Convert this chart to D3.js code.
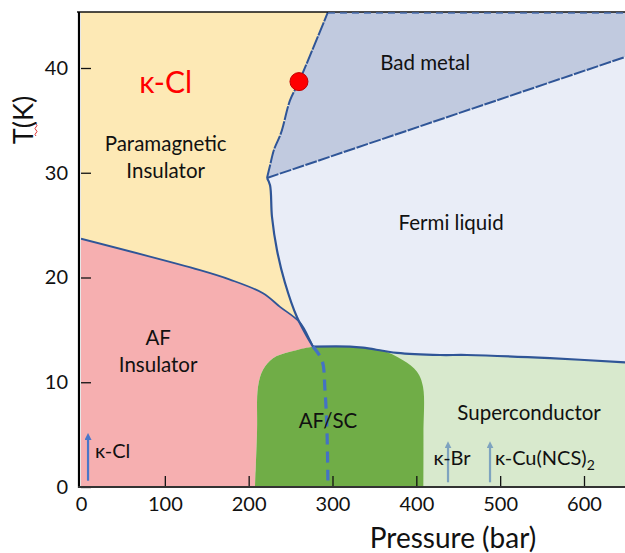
<!DOCTYPE html>
<html><head><meta charset="utf-8">
<script src="https://cdn.jsdelivr.net/npm/d3@7"></script>
<style>
html,body{margin:0;padding:0;background:#fff;}
svg{display:block;font-family:Lato,"Noto Sans",sans-serif;}
</style></head>
<body><svg id="chart" width="625" height="553"></svg>
<script>
// ---- data (pressure in bar, temperature in K) ----
const xTicks = [0,100,200,300,400,500,600];
const yTicks = [0,10,20,30,40];
const P_MAX = 650, T_MAX = 45.35;
// paramagnetic insulator / bad metal boundary (junction -> top)
const pmBadMetal = [[221.9,29.5],[225.5,30.7],[230.2,32.2],[238.6,33.8],[249.3,36.9],[260,38.7],[294.6,45.35]];
// bad metal / Fermi liquid crossover (junction -> right)
const badMetalFL = [[221.9,29.5],[649,41.05]];
// paramagnetic insulator / Fermi liquid first-order line (junction -> critical meeting point)
const pmFL = [[221.9,29.5],[225.5,28.8],[227.8,25.8],[233.8,22.6],[243.3,19.5],[257.7,16.2],[276.7,13.4]];
// AF insulator / paramagnetic insulator boundary
const afLine = [[0,23.7],[142,20.7],[177.7,19.8],[217.1,18.5],[237.4,17.2],[261.2,15.7],[273.2,14.0],[276.7,13.4]];
// Fermi liquid / superconductor boundary
const flSC = [[276.7,13.4],[320.9,13.4],[336.4,13.3],[377,12.8],[428.3,12.6],[460.5,12.6],[559.5,12.3],[649,11.9]];
// AF/SC coexistence region outline
const afscLeft = [[276.7,13.4],[249.3,12.9],[229,12.3],[217.1,11.2],[211.1,9.55],[210,5.4],[207.6,0]];
const afscRight = [[276.7,13.4],[320.9,13.4],[356.7,13.1],[384.1,12.1],[400.8,11.0],[408,9.55],[408.5,5],[408.5,0]];
// AF boundary inside SC (dashed)
const afInSC = [[276.7,13.4],[287.5,12.1],[291,9.3],[293.4,5.4],[294.6,0]];
// critical end point marker
const criticalPoint = [260,38.7];
// compound arrows: [pressure, Tstart, Tend]
const arrowsData = [
  {name:"κ-Cl", p:8.4, t0:0.6, t1:5.3, color:"#4a77c9"},
  {name:"κ-Br", p:437.8, t0:0.45, t1:4.5, color:"#7ea3bf"},
  {name:"κ-Cu(NCS)", p:487.9, t0:0.45, t1:4.5, color:"#7ea3bf"}
];
const phaseLabels = [
  {lines:["Paramagnetic","Insulator"], p:101, t:32.1},
  {lines:["Bad metal"], p:410.5, t:39.8},
  {lines:["Fermi liquid"], p:441.5, t:24.5},
  {lines:["AF","Insulator"], p:92, t:13.6},
  {lines:["AF/SC"], p:294.6, t:5.6},
  {lines:["Superconductor"], p:534.5, t:6.4}
];

// ---- scales ----
const x = d3.scaleLinear().domain([0,600]).range([81,584]);
const y = d3.scaleLinear().domain([0,40]).range([487,68]);
const svg = d3.select("#chart");

const curved = pts => d3.line().x(d=>x(d[0])).y(d=>y(d[1])).curve(d3.curveCatmullRom)(pts);
const straight = pts => d3.line().x(d=>x(d[0])).y(d=>y(d[1]))(pts);
const join = (...segs) => segs.map((s,i)=> i ? s.replace(/^M/,"L") : s).join("") + "Z";
const rev = a => a.slice().reverse();

svg.append("clipPath").attr("id","plotclip").append("rect")
  .attr("x",x(0)).attr("y",y(T_MAX)).attr("width",x(P_MAX)-x(0)).attr("height",y(0)-y(T_MAX));
const g = svg.append("g").attr("clip-path","url(#plotclip)");

const topLeft = [[0,T_MAX],pmBadMetal[pmBadMetal.length-1]];
// regions
g.append("path").attr("fill","#d8e9cd")
  .attr("d", join(curved(flSC), straight([[P_MAX,flSC[flSC.length-1][1]],[P_MAX,0],[200,0]])));
g.append("path").attr("fill","#e9edf7")
  .attr("d", join(straight(badMetalFL), straight([[P_MAX,badMetalFL[1][1]],[P_MAX,flSC[flSC.length-1][1]]]), curved(rev(flSC)), curved(rev(pmFL))));
g.append("path").attr("fill","#c1cadf")
  .attr("d", join(curved(pmBadMetal), straight([[P_MAX,T_MAX],[P_MAX,badMetalFL[1][1]]]), straight(rev(badMetalFL))));
g.append("path").attr("fill","#fde9b5")
  .attr("d", join(straight(topLeft), curved(rev(pmBadMetal)), curved(pmFL), curved(rev(afLine))));
g.append("path").attr("fill","#f6afb0")
  .attr("d", join(curved(afLine), curved(afscLeft), straight([[0,0]])));
g.append("path").attr("fill","#70ad47")
  .attr("d", curved(rev(afscLeft).concat(afscRight.slice(1))) + "Z");

// boundary lines
const lineCol = "#2f5597";
g.append("path").attr("d",curved(afLine)).attr("fill","none").attr("stroke",lineCol).attr("stroke-width",1.8);
g.append("path").attr("d",curved(pmFL)).attr("fill","none").attr("stroke",lineCol).attr("stroke-width",2.2);
g.append("path").attr("d",curved(pmBadMetal)).attr("fill","none").attr("stroke",lineCol).attr("stroke-width",2).attr("stroke-dasharray","14,1.2");
g.append("path").attr("d",straight(badMetalFL)).attr("fill","none").attr("stroke",lineCol).attr("stroke-width",2).attr("stroke-dasharray","12,1.5");
g.append("path").attr("d",curved(flSC)).attr("fill","none").attr("stroke",lineCol).attr("stroke-width",2.2);
g.append("path").attr("d",curved(afInSC)).attr("fill","none").attr("stroke","#4472c4").attr("stroke-width",3.2).attr("stroke-dasharray","11,7");

// critical point
g.append("circle").attr("cx",x(criticalPoint[0])).attr("cy",y(criticalPoint[1])).attr("r",9)
  .attr("fill","#ff0000").attr("stroke","#c00000").attr("stroke-width",1);

// frame
svg.append("line").attr("x1",x(0)-4).attr("x2",x(P_MAX)).attr("y1",y(T_MAX)).attr("y2",y(T_MAX)).attr("stroke","#111").attr("stroke-width",1.6);
svg.append("line").attr("x1",x(pmBadMetal[pmBadMetal.length-1][0])).attr("x2",x(P_MAX)).attr("y1",y(T_MAX)+1).attr("y2",y(T_MAX)+1).attr("stroke","#4a6fb0").attr("stroke-width",1.6).attr("stroke-dasharray","7,5");

// axes
const yAxis = d3.axisLeft(y).tickValues(yTicks).tickSizeInner(-10).tickSizeOuter(0).tickPadding(13);
const xAxis = d3.axisBottom(x).tickValues(xTicks).tickSizeInner(-11).tickSizeOuter(0).tickPadding(10);
const ya = svg.append("g").attr("transform",`translate(${x(0)},0)`).call(yAxis);
const xa = svg.append("g").attr("transform",`translate(0,${y(0)})`).call(xAxis);
[ya,xa].forEach(a=>{
  a.selectAll("text").attr("font-size",20).attr("font-family","Lato,sans-serif").attr("fill","#111");
  a.selectAll(".tick line").attr("stroke","#111").attr("stroke-width",1.3);
  a.select(".domain").remove();
});
xa.selectAll(".tick").filter(d=>d===0).select("line").remove();
svg.append("line").attr("x1",x(0)-2).attr("x2",x(0)-2).attr("y1",y(T_MAX)).attr("y2",y(0)+1).attr("stroke","#000").attr("stroke-width",2.2);
svg.append("line").attr("x1",x(0)-3).attr("x2",x(P_MAX)).attr("y1",y(0)).attr("y2",y(0)).attr("stroke","#333").attr("stroke-width",2);

svg.append("text").attr("x",453).attr("y",548).attr("text-anchor","middle").attr("font-size",28).attr("fill","#111").text("Pressure (bar)");
svg.append("text").attr("transform","translate(33,120) rotate(-90)").attr("text-anchor","middle").attr("font-size",27).attr("fill","#111").text("T(K)");
svg.append("path").attr("d","M36,124 q2,1.5 0,3 q-2,1.5 0,3 q2,1.5 0,3 q-2,1.5 0,3").attr("fill","none").attr("stroke","#e03030").attr("stroke-width",1);

// phase labels
phaseLabels.forEach(l=>{
  const t = svg.append("text").attr("text-anchor","middle").attr("font-size",20.5).attr("fill","#111");
  l.lines.forEach((s,i)=> t.append("tspan").attr("x",x(l.p)).attr("y",y(l.t)+i*27).text(s));
});
svg.append("text").attr("x",x(101)).attr("y",y(37.6)).attr("text-anchor","middle").attr("font-size",30).attr("fill","#ff0000").text("κ-Cl");

// arrows
const defs = svg.append("defs");
arrowsData.forEach((a,i)=>{
  defs.append("marker").attr("id","ah"+i).attr("viewBox","0 0 10 10").attr("refX",5).attr("refY",5)
    .attr("markerWidth",3.2).attr("markerHeight",3.2).attr("orient","auto")
    .append("path").attr("d","M0,0 L10,5 L0,10 Z").attr("fill",a.color);
  svg.append("line").attr("x1",x(a.p)).attr("x2",x(a.p)).attr("y1",y(a.t0)).attr("y2",y(a.t1)+5)
    .attr("stroke",a.color).attr("stroke-width",2.2).attr("marker-end",`url(#ah${i})`);
});
const cmp = [
  {p:8.4, t:2.8, anchor:"start", dx:7, txt:"κ-Cl"},
  {p:437.8, t:2.1, anchor:"middle", dx:4, txt:"κ-Br"},
  {p:487.9, t:2.1, anchor:"start", dx:5, txt:"κ-Cu(NCS)", sub:"2"}
];
cmp.forEach(c=>{
  const t = svg.append("text").attr("x",x(c.p)+c.dx).attr("y",y(c.t)).attr("text-anchor",c.anchor).attr("font-size",20).attr("fill","#111").text(c.txt);
  if(c.sub) t.append("tspan").attr("font-size",14).attr("dy",5).text(c.sub);
});
</script></body></html>
